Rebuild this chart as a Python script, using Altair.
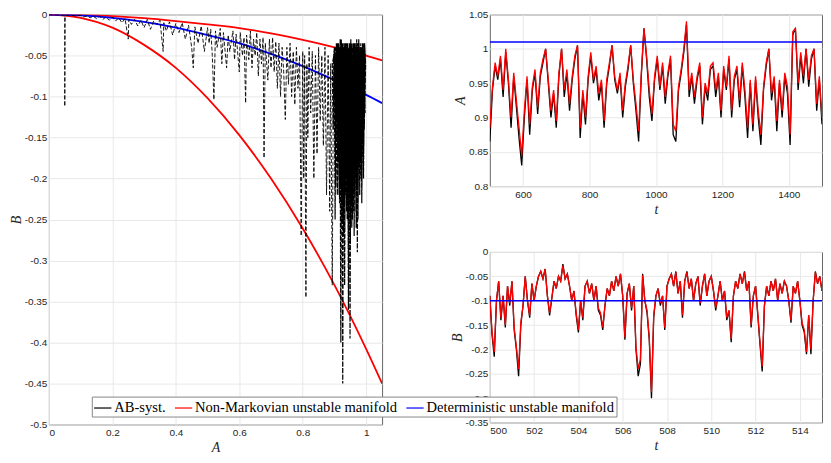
import altair as alt
import pandas as pd

SERIES = ["AB-syst.", "Non-Markovian unstable manifold", "Deterministic unstable manifold"]
COLORS = ["#000000", "#ff0000", "#0000ff"]

# ---------------- phase space (A, B) ----------------
man_A = [0.0, 0.1, 0.2, 0.3, 0.4, 0.5, 0.6, 0.7, 0.8, 0.9, 1.0, 1.05]
nm_upper_B = [0.0, -0.0005, -0.002, -0.0045, -0.008, -0.012, -0.0165, -0.023, -0.031, -0.04, -0.05, -0.056]
det_B = [0.0, -0.001, -0.004, -0.009, -0.016, -0.025, -0.035, -0.048, -0.063, -0.08, -0.098, -0.108]
nm_lower_B = [0.0, -0.004, -0.016, -0.037, -0.065, -0.102, -0.147, -0.2, -0.261, -0.33, -0.408, -0.45]

traj_sparse = [
    (0.0, 0.0), (0.02, -0.0003), (0.04, -0.001), (0.05, -0.0015), (0.05, -0.112), (0.051, -0.002),
    (0.06, -0.0005), (0.08, -0.0015), (0.1, -0.001),
    (0.11, -0.003), (0.12, -0.0015), (0.13, -0.004), (0.14, -0.002), (0.15, -0.005), (0.16, -0.002),
    (0.17, -0.006), (0.18, -0.003), (0.19, -0.007), (0.2, -0.003),
    (0.21, -0.008), (0.22, -0.004), (0.23, -0.01), (0.24, -0.005), (0.25, -0.03), (0.252, -0.006),
    (0.26, -0.012), (0.27, -0.006), (0.28, -0.014), (0.29, -0.007), (0.3, -0.016),
    (0.31, -0.006), (0.32, -0.018), (0.33, -0.008), (0.34, -0.012), (0.35, -0.007), (0.36, -0.045),
    (0.362, -0.01), (0.37, -0.02), (0.38, -0.009), (0.39, -0.025), (0.4, -0.011),
    (0.41, -0.022), (0.42, -0.01), (0.43, -0.03), (0.44, -0.013), (0.45, -0.04), (0.455, -0.065),
    (0.46, -0.015), (0.47, -0.035), (0.48, -0.014), (0.49, -0.045), (0.5, -0.016),
    (0.505, -0.035), (0.51, -0.018), (0.515, -0.05), (0.52, -0.104), (0.525, -0.02), (0.53, -0.04),
    (0.54, -0.017), (0.545, -0.06), (0.55, -0.022), (0.56, -0.065), (0.565, -0.025), (0.57, -0.045),
    (0.58, -0.02), (0.585, -0.055), (0.59, -0.024), (0.6, -0.07),
    (0.603, -0.022), (0.61, -0.05), (0.615, -0.028), (0.62, -0.108), (0.623, -0.025), (0.63, -0.055),
    (0.635, -0.02), (0.64, -0.065), (0.645, -0.03), (0.65, -0.05), (0.655, -0.022), (0.66, -0.075),
    (0.665, -0.03), (0.67, -0.06), (0.675, -0.028), (0.678, -0.175), (0.682, -0.035), (0.69, -0.08),
    (0.695, -0.03), (0.7, -0.065),
    (0.705, -0.028), (0.71, -0.07), (0.715, -0.033), (0.72, -0.09), (0.725, -0.035), (0.73, -0.1),
    (0.735, -0.04), (0.74, -0.07), (0.745, -0.128), (0.75, -0.04), (0.755, -0.085), (0.76, -0.035),
    (0.765, -0.1), (0.77, -0.045), (0.775, -0.11), (0.78, -0.04), (0.785, -0.09), (0.79, -0.05),
    (0.795, -0.27), (0.8, -0.045),
    (0.803, -0.2), (0.806, -0.05), (0.81, -0.345), (0.813, -0.06), (0.816, -0.15), (0.82, -0.04),
    (0.825, -0.12), (0.83, -0.045), (0.835, -0.2), (0.84, -0.05), (0.845, -0.17), (0.85, -0.04),
    (0.855, -0.13), (0.86, -0.05), (0.865, -0.16), (0.87, -0.04), (0.875, -0.22), (0.88, -0.05),
    (0.885, -0.24), (0.888, -0.06), (0.893, -0.33), (0.897, -0.05), (0.9, -0.04),
]
traj_dense = [
    (0.9, -0.04), (0.903, -0.19), (0.906, -0.035), (0.909, -0.22), (0.912, -0.045), (0.915, -0.17),
    (0.918, -0.03), (0.921, -0.26), (0.924, -0.04), (0.926, -0.45), (0.929, -0.05), (0.932, -0.2),
    (0.935, -0.035), (0.938, -0.24), (0.941, -0.04), (0.944, -0.3), (0.947, -0.045), (0.949, -0.395),
    (0.952, -0.04), (0.955, -0.21), (0.958, -0.035), (0.961, -0.18), (0.964, -0.045), (0.967, -0.22),
    (0.97, -0.03), (0.972, -0.29), (0.975, -0.04), (0.978, -0.16), (0.981, -0.05), (0.984, -0.2),
    (0.987, -0.04), (0.99, -0.13), (0.993, -0.045), (0.996, -0.11), (0.998, -0.06),
    (0.995, -0.035), (0.992, -0.17), (0.989, -0.04), (0.986, -0.23), (0.983, -0.035), (0.98, -0.19),
    (0.977, -0.045), (0.974, -0.25), (0.971, -0.04), (0.968, -0.2), (0.965, -0.035), (0.962, -0.27),
    (0.959, -0.05), (0.956, -0.23), (0.953, -0.04), (0.95, -0.28), (0.947, -0.035), (0.944, -0.36),
    (0.941, -0.045), (0.938, -0.2), (0.935, -0.04), (0.932, -0.33), (0.929, -0.045), (0.926, -0.25),
    (0.923, -0.035), (0.92, -0.4), (0.917, -0.05), (0.914, -0.2), (0.911, -0.04), (0.908, -0.15),
    (0.905, -0.05), (0.902, -0.25), (0.899, -0.045), (0.896, -0.14), (0.893, -0.06),
    (0.9035, -0.04), (0.9065, -0.13), (0.9095, -0.035), (0.9125, -0.16), (0.9155, -0.04), (0.9185, -0.19),
    (0.9215, -0.03), (0.9245, -0.15), (0.9275, -0.04), (0.9305, -0.21), (0.9335, -0.035), (0.9365, -0.18),
    (0.9395, -0.045), (0.9425, -0.22), (0.9455, -0.04), (0.9485, -0.17), (0.9515, -0.03), (0.9545, -0.26),
    (0.9575, -0.04), (0.9605, -0.19), (0.9635, -0.035), (0.9665, -0.15), (0.9695, -0.045), (0.9725, -0.2),
    (0.9755, -0.035), (0.9785, -0.13), (0.9815, -0.04), (0.9845, -0.17), (0.9875, -0.045), (0.9905, -0.1),
    (0.9935, -0.035), (0.9965, -0.12),
    (0.9945, -0.04), (0.9915, -0.2), (0.9885, -0.035), (0.9855, -0.15), (0.9825, -0.04), (0.9795, -0.22),
    (0.9765, -0.03), (0.9735, -0.17), (0.9705, -0.045), (0.9675, -0.24), (0.9645, -0.04), (0.9615, -0.16),
    (0.9585, -0.035), (0.9555, -0.21), (0.9525, -0.045), (0.9495, -0.18), (0.9465, -0.04), (0.9435, -0.26),
    (0.9405, -0.035), (0.9375, -0.16), (0.9345, -0.045), (0.9315, -0.23), (0.9285, -0.04), (0.9255, -0.17),
    (0.9225, -0.035), (0.9195, -0.21), (0.9165, -0.045), (0.9135, -0.14), (0.9105, -0.04), (0.9075, -0.12),
    (0.9045, -0.05), (0.9015, -0.1),
    (0.901, -0.05), (0.904, -0.21), (0.907, -0.04), (0.91, -0.18), (0.913, -0.035), (0.916, -0.23),
    (0.919, -0.045), (0.922, -0.19), (0.925, -0.035), (0.928, -0.27), (0.931, -0.04), (0.934, -0.22),
    (0.937, -0.035), (0.94, -0.25), (0.943, -0.045), (0.946, -0.2), (0.949, -0.035), (0.952, -0.23),
    (0.955, -0.04), (0.958, -0.24), (0.961, -0.035), (0.964, -0.19), (0.967, -0.04), (0.97, -0.21),
    (0.973, -0.035), (0.976, -0.18), (0.979, -0.045), (0.982, -0.15), (0.985, -0.04), (0.988, -0.17),
    (0.991, -0.045), (0.994, -0.14), (0.997, -0.05),
    (0.9955, -0.04), (0.9925, -0.16), (0.9895, -0.035), (0.9865, -0.21), (0.9835, -0.045), (0.9805, -0.18),
    (0.9775, -0.035), (0.9745, -0.23), (0.9715, -0.04), (0.9685, -0.26), (0.9655, -0.035), (0.9625, -0.22),
    (0.9595, -0.045), (0.9565, -0.25), (0.9535, -0.035), (0.9505, -0.19), (0.9475, -0.04), (0.9445, -0.24),
    (0.9415, -0.035), (0.9385, -0.21), (0.9355, -0.045), (0.9325, -0.26), (0.9295, -0.035), (0.9265, -0.2),
    (0.9235, -0.045), (0.9205, -0.17), (0.9175, -0.04), (0.9145, -0.22), (0.9115, -0.045), (0.9085, -0.16),
    (0.9055, -0.05), (0.9025, -0.13),
]

# ---------------- time series A(t) ----------------
t_A = list(range(500, 1501, 8))
A_syst = [
    0.865, 0.94, 0.975, 0.955, 0.985, 0.93, 0.995, 0.95, 0.885, 0.96,
    0.915, 0.87, 0.83, 0.9, 0.955, 0.875, 0.94, 0.965, 0.905, 0.96,
    0.98, 1.0, 0.95, 0.9, 0.935, 0.885, 0.96, 1.0, 0.93, 0.965,
    0.91, 0.955, 0.985, 1.005, 0.87, 0.935, 0.89, 0.955, 0.99, 0.95,
    0.97, 0.925, 0.95, 0.885, 0.95, 0.975, 1.005, 0.955, 0.935, 0.96,
    0.9, 0.945, 0.97, 1.005, 0.95, 0.91, 0.865, 0.96, 1.03, 0.985,
    0.93, 0.895, 0.955, 0.985, 0.94, 0.975, 0.92, 0.96, 0.985, 0.875,
    0.865, 0.94, 0.965, 0.995, 1.035, 0.93, 0.96, 0.92, 0.955, 0.975,
    0.89, 0.945, 0.925, 0.97, 0.975, 0.93, 0.96, 0.9, 0.97, 0.94,
    0.985, 0.9, 0.955, 0.97, 0.915, 0.975, 0.93, 0.87, 0.95, 0.88,
    0.955, 0.9, 0.86, 0.94, 0.975, 1.0, 0.925, 0.955, 0.88, 0.95,
    0.9, 0.96, 0.935, 0.86, 1.02, 1.03, 0.94, 0.99, 0.95, 1.0,
    0.945, 0.985, 1.0, 0.91, 0.955, 0.89,
]
A_nm = [
    0.885, 0.945, 0.98, 0.96, 0.99, 0.94, 1.0, 0.955, 0.9, 0.965,
    0.925, 0.885, 0.845, 0.91, 0.96, 0.89, 0.945, 0.97, 0.915, 0.965,
    0.985, 1.0, 0.955, 0.91, 0.94, 0.895, 0.965, 1.0, 0.94, 0.97,
    0.92, 0.96, 0.99, 1.005, 0.885, 0.94, 0.9, 0.96, 0.995, 0.955,
    0.975, 0.935, 0.955, 0.895, 0.955, 0.98, 1.005, 0.96, 0.94, 0.965,
    0.91, 0.95, 0.975, 1.005, 0.955, 0.92, 0.88, 0.965, 1.03, 0.99,
    0.94, 0.905, 0.96, 0.99, 0.945, 0.98, 0.93, 0.965, 0.99, 0.89,
    0.88, 0.945, 0.97, 1.0, 1.04, 0.94, 0.965, 0.93, 0.96, 0.98,
    0.9, 0.95, 0.935, 0.975, 0.98, 0.94, 0.965, 0.91, 0.975, 0.945,
    0.99, 0.91, 0.96, 0.975, 0.925, 0.98, 0.94, 0.885, 0.955, 0.89,
    0.96, 0.91, 0.875, 0.945, 0.98, 1.0, 0.935, 0.96, 0.895, 0.955,
    0.91, 0.965, 0.945, 0.875, 1.025, 1.03, 0.95, 0.995, 0.96, 1.0,
    0.955, 0.99, 1.0, 0.92, 0.96, 0.9,
]
A_det_level = 1.01

# ---------------- time series B(t) ----------------
t_B = [round(500 + 0.1 * i, 1) for i in range(151)]
B_syst = [
    -0.09, -0.17, -0.215, -0.1, -0.06, -0.14, -0.09, -0.155, -0.07, -0.11,
    -0.06, -0.16, -0.2, -0.255, -0.15, -0.11, -0.05, -0.1, -0.135, -0.065,
    -0.1, -0.07, -0.05, -0.04, -0.055, -0.035, -0.09, -0.13, -0.095, -0.06,
    -0.075, -0.05, -0.06, -0.025, -0.055, -0.045, -0.07, -0.1, -0.08, -0.13,
    -0.165, -0.1, -0.14, -0.07, -0.06, -0.085, -0.065, -0.1, -0.07, -0.12,
    -0.13, -0.16, -0.11, -0.075, -0.09, -0.06, -0.08, -0.05, -0.07, -0.045,
    -0.09, -0.18, -0.085, -0.065, -0.12, -0.07, -0.2, -0.255, -0.23, -0.045,
    -0.1, -0.125, -0.18, -0.3, -0.135, -0.09, -0.075, -0.11, -0.09, -0.16,
    -0.07, -0.055, -0.045, -0.07, -0.04, -0.085, -0.06, -0.135, -0.06, -0.04,
    -0.075, -0.055, -0.1, -0.065, -0.05, -0.11, -0.07, -0.045, -0.09, -0.06,
    -0.05, -0.08, -0.12, -0.09, -0.06, -0.1, -0.08, -0.14, -0.12, -0.185,
    -0.09, -0.06, -0.075, -0.045, -0.065, -0.04, -0.08, -0.06, -0.155, -0.09,
    -0.07, -0.13, -0.19, -0.245, -0.11, -0.07, -0.09, -0.06, -0.08, -0.055,
    -0.1, -0.065, -0.085, -0.06, -0.07, -0.1, -0.145, -0.07, -0.085, -0.06,
    -0.1, -0.15, -0.165, -0.21, -0.13, -0.21, -0.1, -0.04, -0.065, -0.05,
    -0.08,
]
B_nm = [
    -0.09, -0.165, -0.205, -0.1, -0.06, -0.135, -0.09, -0.15, -0.07, -0.105,
    -0.06, -0.155, -0.195, -0.24, -0.145, -0.11, -0.05, -0.1, -0.13, -0.065,
    -0.1, -0.07, -0.05, -0.04, -0.055, -0.035, -0.09, -0.125, -0.095, -0.06,
    -0.075, -0.05, -0.06, -0.028, -0.055, -0.045, -0.07, -0.1, -0.08, -0.125,
    -0.16, -0.1, -0.135, -0.07, -0.06, -0.085, -0.065, -0.1, -0.07, -0.115,
    -0.125, -0.155, -0.11, -0.075, -0.09, -0.06, -0.08, -0.05, -0.07, -0.045,
    -0.09, -0.175, -0.085, -0.065, -0.115, -0.07, -0.195, -0.24, -0.22, -0.048,
    -0.1, -0.12, -0.175, -0.288, -0.13, -0.09, -0.075, -0.105, -0.09, -0.155,
    -0.07, -0.055, -0.045, -0.07, -0.042, -0.085, -0.06, -0.13, -0.06, -0.042,
    -0.075, -0.055, -0.1, -0.065, -0.05, -0.105, -0.07, -0.045, -0.09, -0.06,
    -0.05, -0.08, -0.115, -0.09, -0.06, -0.1, -0.08, -0.135, -0.12, -0.178,
    -0.09, -0.06, -0.075, -0.045, -0.065, -0.042, -0.08, -0.06, -0.15, -0.09,
    -0.07, -0.125, -0.185, -0.235, -0.11, -0.07, -0.09, -0.06, -0.08, -0.055,
    -0.1, -0.065, -0.085, -0.06, -0.07, -0.1, -0.14, -0.07, -0.085, -0.06,
    -0.1, -0.145, -0.16, -0.205, -0.13, -0.2, -0.1, -0.042, -0.065, -0.05,
    -0.08,
]
B_det_level = -0.1

# tick values
left_x_ticks = [0, 0.2, 0.4, 0.6, 0.8, 1]
left_y_ticks = [0, -0.05, -0.1, -0.15, -0.2, -0.25, -0.3, -0.35, -0.4, -0.45, -0.5]
tA_ticks = [600, 800, 1000, 1200, 1400]
A_ticks = [0.8, 0.85, 0.9, 0.95, 1, 1.05]
tB_ticks = [500, 502, 504, 506, 508, 510, 512, 514]
B_ticks = [0, -0.05, -0.1, -0.15, -0.2, -0.25, -0.3, -0.35]

# ---------------- data frames ----------------
df_sparse = pd.DataFrame({
    "A": [p[0] for p in traj_sparse], "B": [p[1] for p in traj_sparse],
    "idx": list(range(len(traj_sparse))), "series": SERIES[0],
})
df_dense = pd.DataFrame({
    "A": [p[0] for p in traj_dense], "B": [p[1] for p in traj_dense],
    "idx": list(range(len(traj_dense))), "series": SERIES[0],
})
df_man = pd.concat([
    pd.DataFrame({"A": man_A, "B": nm_upper_B, "branch": "nm_up", "series": SERIES[1]}),
    pd.DataFrame({"A": man_A, "B": nm_lower_B, "branch": "nm_low", "series": SERIES[1]}),
    pd.DataFrame({"A": man_A, "B": det_B, "branch": "det", "series": SERIES[2]}),
])
df_A = pd.concat([
    pd.DataFrame({"t": t_A, "v": A_syst, "series": SERIES[0]}),
    pd.DataFrame({"t": t_A, "v": A_nm, "series": SERIES[1]}),
])
df_Adet = pd.DataFrame({"t": [t_A[0], t_A[-1]], "v": [A_det_level, A_det_level], "series": SERIES[2]})
df_B = pd.concat([
    pd.DataFrame({"t": t_B, "v": B_syst, "series": SERIES[0]}),
    pd.DataFrame({"t": t_B, "v": B_nm, "series": SERIES[1]}),
])
df_Bdet = pd.DataFrame({"t": [t_B[0], t_B[-1]], "v": [B_det_level, B_det_level], "series": SERIES[2]})

LABEL_EXPR = "replace(format(datum.value, '~g'), '\u2212', '-')"

color_enc = alt.Color(
    "series:N",
    scale=alt.Scale(domain=SERIES, range=COLORS),
    legend=alt.Legend(
        title=None, orient="none", legendX=43, legendY=383, direction="horizontal",
        columns=3, symbolType="stroke", symbolSize=300, symbolStrokeWidth=1.2,
        labelFont="Liberation Serif", labelFontSize=14.6, labelColor="black",
        fillColor="white", strokeColor="#888888", padding=1.5, columnPadding=6,
        labelLimit=400, labelOffset=2, rowPadding=0,
    ),
)


def ax(title, values):
    return alt.Axis(title=title, values=values, labelExpr=LABEL_EXPR)


# ---------------- left panel ----------------
xL = alt.X("A:Q", scale=alt.Scale(domain=[0, 1.05], nice=False), axis=ax("A", left_x_ticks))
yL = alt.Y("B:Q", scale=alt.Scale(domain=[-0.5, 0], nice=False), axis=ax("B", left_y_ticks))

man_layer = alt.Chart(df_man).mark_line(strokeWidth=1.8, interpolate="monotone", clip=True).encode(
    x=xL, y=yL, detail="branch:N", color=color_enc
)
sparse_layer = alt.Chart(df_sparse).mark_line(strokeWidth=0.9, strokeDash=[4, 2], clip=True).encode(
    x=xL, y=yL, order="idx:Q", color=color_enc
)
dense_layer = alt.Chart(df_dense).mark_line(strokeWidth=1.2, strokeDash=[5, 1.5], clip=True).encode(
    x=xL, y=yL, order="idx:Q", color=color_enc
)
left = alt.layer(man_layer, sparse_layer, dense_layer).properties(width=334, height=411)

# ---------------- top right ----------------
xA = alt.X("t:Q", scale=alt.Scale(domain=[500, 1500], nice=False), axis=ax("t", tA_ticks))
yA = alt.Y("v:Q", scale=alt.Scale(domain=[0.8, 1.05], nice=False), axis=ax("A", A_ticks))
topA = alt.layer(
    alt.Chart(df_A).mark_line(strokeWidth=1.3, clip=True).encode(x=xA, y=yA, color=color_enc, detail="series:N"),
    alt.Chart(df_Adet).mark_line(strokeWidth=1.5, clip=True).encode(x=xA, y=yA, color=color_enc),
).properties(width=333, height=172)

# ---------------- bottom right ----------------
xB = alt.X("t:Q", scale=alt.Scale(domain=[500, 515], nice=False), axis=ax("t", tB_ticks))
yB = alt.Y("v:Q", scale=alt.Scale(domain=[-0.35, 0], nice=False), axis=ax("B", B_ticks))
botB = alt.layer(
    alt.Chart(df_B).mark_line(strokeWidth=1.3, clip=True).encode(x=xB, y=yB, color=color_enc, detail="series:N"),
    alt.Chart(df_Bdet).mark_line(strokeWidth=1.5, clip=True).encode(x=xB, y=yB, color=color_enc),
).properties(width=333, height=171)

right = alt.vconcat(topA, botB, spacing=29)

chart = alt.hconcat(left, right, spacing=66).resolve_scale(color="shared").properties(
    padding={"left": 0, "top": 0, "right": 0, "bottom": 0},
    background="white",
).configure_view(
    stroke="#666666", strokeWidth=1
).configure_axis(
    grid=True, gridColor="#e8e8e8", gridWidth=1, ticks=False, domain=False,
    labelFont="Liberation Sans", labelFontSize=10, labelColor="#262626",
    titleFont="Liberation Serif", titleFontStyle="italic", titleFontWeight="normal",
    titleFontSize=14, titleColor="#262626",
).configure_axisX(
    labelPadding=3, titlePadding=3
).configure_axisY(
    labelPadding=2, titlePadding=1
)

chart.save("out.html", embed_options={"renderer": "svg", "actions": False})
